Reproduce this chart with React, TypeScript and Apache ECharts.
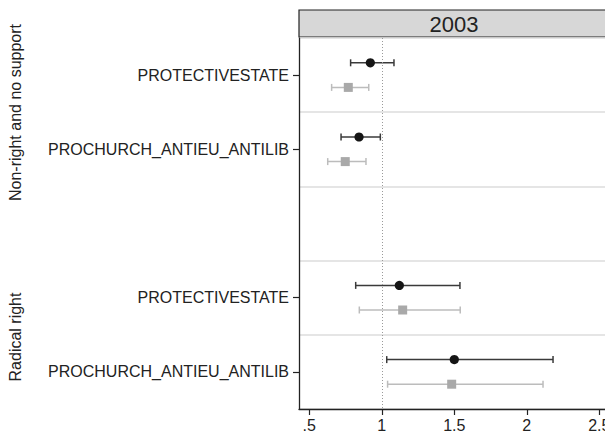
import React, { useEffect, useRef } from "react";
import * as echarts from "echarts";

const rowLabels = ["PROTECTIVESTATE", "PROCHURCH_ANTIEU_ANTILIB", "", "PROTECTIVESTATE", "PROCHURCH_ANTIEU_ANTILIB"];
const groupLabels = ["Non-right and no support", "Radical right"];
const panelTitle = "2003";
const xTicks = [0.5, 1, 1.5, 2, 2.5];
const refValue = 1;

const blackEst = [0.921, 0.843, null, 1.121, 1.5];
const blackLo = [0.785, 0.719, null, 0.82, 1.034];
const blackHi = [1.084, 0.99, null, 1.539, 2.181];

const grayEst = [0.769, 0.748, null, 1.144, 1.482];
const grayLo = [0.654, 0.627, null, 0.845, 1.04];
const grayHi = [0.91, 0.891, null, 1.541, 2.112];

const FONT = "'Liberation Sans', Arial, sans-serif";

function build(est: (number | null)[], lo: (number | null)[], hi: (number | null)[]) {
  const out: number[][] = [];
  est.forEach((e, i) => {
    if (e != null && lo[i] != null && hi[i] != null) out.push([e, lo[i] as number, hi[i] as number, i]);
  });
  return out;
}

function makeRender(offset: number, lineColor: string, markColor: string, shape: "circle" | "square") {
  return (params: any, api: any) => {
    const row = api.value(3);
    const p = api.coord([api.value(0), row]);
    const l = api.coord([api.value(1), row]);
    const h = api.coord([api.value(2), row]);
    const y = p[1] + offset;
    const cap = 3.5;
    const ls = { stroke: lineColor, lineWidth: 1.5 };
    const children: any[] = [
      { type: "line", shape: { x1: l[0], y1: y, x2: h[0], y2: y }, style: ls },
      { type: "line", shape: { x1: l[0], y1: y - cap, x2: l[0], y2: y + cap }, style: ls },
      { type: "line", shape: { x1: h[0], y1: y - cap, x2: h[0], y2: y + cap }, style: ls },
    ];
    if (shape === "circle") {
      children.push({ type: "circle", shape: { cx: p[0], cy: y, r: 4.6 }, style: { fill: markColor } });
    } else {
      children.push({ type: "rect", shape: { x: p[0] - 4.5, y: y - 4.5, width: 9, height: 9 }, style: { fill: markColor } });
    }
    return { type: "group", children };
  };
}

export default function App() {
  const ref = useRef<HTMLDivElement>(null);
  useEffect(() => {
    if (!ref.current) return;
    const chart = echarts.init(ref.current, undefined, { renderer: "svg" });
    const gridLeft = 299;
    const gridTop = 38;
    const gridW = 310;
    const gridH = 374;
    chart.setOption({
      animation: false,
      textStyle: { fontFamily: FONT },
      grid: { left: gridLeft, top: gridTop, width: gridW, height: gridH, containLabel: false },
      xAxis: {
        type: "value",
        min: 0.429,
        max: 2.567,
        axisLine: { show: true, lineStyle: { color: "#222", width: 1.3 } },
        axisTick: { show: true, length: 6, customValues: xTicks, lineStyle: { color: "#222", width: 1.2 } },
        axisLabel: {
          customValues: xTicks,
          margin: 8,
          fontSize: 16,
          color: "#222",
          fontFamily: FONT,
          formatter: (v: number) => (v === 0.5 ? ".5" : String(v)),
        },
        splitLine: { show: false },
      },
      yAxis: {
        type: "category",
        inverse: true,
        data: rowLabels,
        boundaryGap: true,
        axisLine: { show: true, lineStyle: { color: "#222", width: 1.3 } },
        axisTick: {
          show: true,
          length: 6,
          alignWithLabel: true,
          interval: (i: number, v: string) => v !== "",
          lineStyle: { color: "#222", width: 1.2 },
        },
        axisLabel: { margin: 10, fontSize: 16, color: "#222", fontFamily: FONT, interval: 0 },
        splitLine: { show: true, interval: 0, lineStyle: { color: "#dcdcdc", width: 1.5 } },
      },
      graphic: [
        {
          type: "rect",
          shape: { x: gridLeft, y: 10, width: gridW + 10, height: 27 },
          style: { fill: "#d7d7d7", stroke: "#222", lineWidth: 1.2 },
        },
        {
          type: "text",
          x: 454,
          y: 24,
          style: { text: panelTitle, fontSize: 22, fill: "#222", fontFamily: FONT, textAlign: "center", textVerticalAlign: "middle" },
        },
        {
          type: "text",
          x: 15,
          y: 112.5,
          rotation: Math.PI / 2,
          style: { text: groupLabels[0], fontSize: 16, fill: "#222", fontFamily: FONT, textAlign: "center", textVerticalAlign: "middle" },
        },
        {
          type: "text",
          x: 15,
          y: 337,
          rotation: Math.PI / 2,
          style: { text: groupLabels[1], fontSize: 16, fill: "#222", fontFamily: FONT, textAlign: "center", textVerticalAlign: "middle" },
        },
      ],
      series: [
        {
          type: "scatter",
          data: [],
          silent: true,
          markLine: {
            silent: true,
            symbol: ["none", "none"],
            label: { show: false },
            lineStyle: { color: "#9a9a9a", type: [1, 2], width: 1 },
            data: [{ xAxis: refValue }],
          },
        },
        {
          type: "custom",
          name: "gray",
          dimensions: ["est", "lo", "hi", "row"],
          encode: { x: ["est", "lo", "hi"], y: "row" },
          data: build(grayEst, grayLo, grayHi),
          renderItem: makeRender(12.3, "#bcbcbc", "#a9a9a9", "square"),
          z: 3,
        },
        {
          type: "custom",
          name: "black",
          dimensions: ["est", "lo", "hi", "row"],
          encode: { x: ["est", "lo", "hi"], y: "row" },
          data: build(blackEst, blackLo, blackHi),
          renderItem: makeRender(-12.3, "#3a3a3a", "#151515", "circle"),
          z: 4,
        },
      ],
    });
    return () => chart.dispose();
  }, []);
  return (
    <div style={{ position: "fixed", left: 0, top: 0, width: 605, height: 433, overflow: "hidden", background: "#fff" }}>
      <div ref={ref} style={{ width: 625, height: 433 }} />
    </div>
  );
}
